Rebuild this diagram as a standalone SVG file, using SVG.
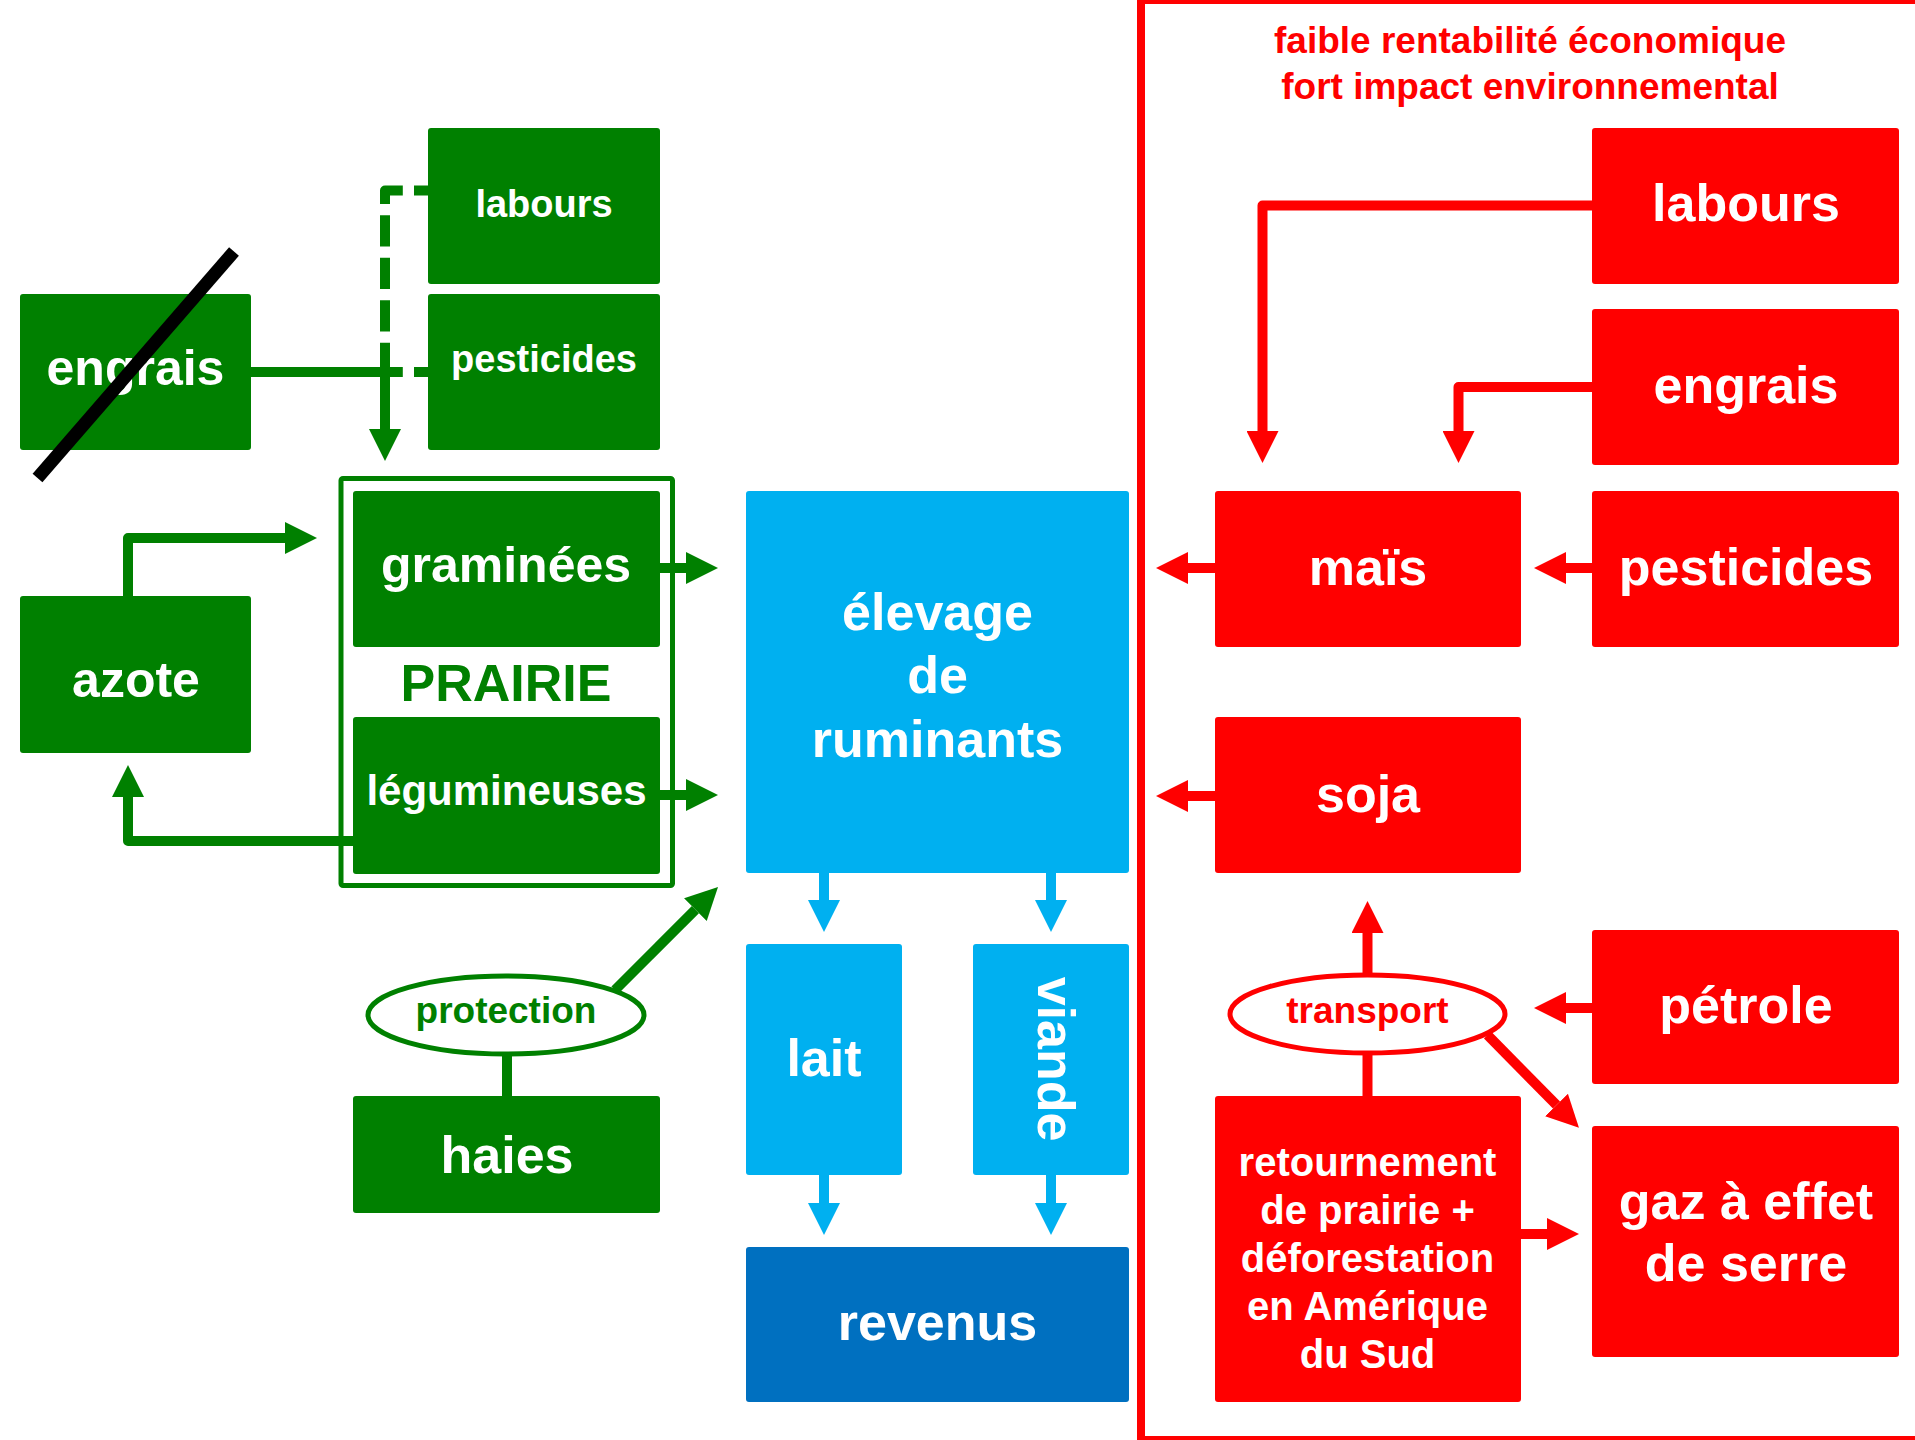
<svg xmlns="http://www.w3.org/2000/svg" width="1915" height="1440" viewBox="0 0 1915 1440">
  <style>
    text { font-family: "Liberation Sans", Arial, sans-serif; font-weight: bold; text-anchor: middle; }
    .g { fill: #008000; }
    .b { fill: #00B0F0; }
    .db { fill: #0070C0; }
    .r { fill: #FF0000; }
    .w { fill: #FFFFFF; }
    .tg { fill: #008000; }
    .tr { fill: #FF0000; }
    .cg { stroke: #008000; stroke-width: 10; fill: none; stroke-linejoin: round; }
    .cr { stroke: #FF0000; stroke-width: 10; fill: none; stroke-linejoin: round; }
    .cb { stroke: #00B0F0; stroke-width: 10; fill: none; }
    .dash { stroke-dasharray: 31.3 11.2; stroke-dashoffset: 17.3; }
    .s38 { font-size: 38px; }
    .s37 { font-size: 37px; }
    .s40 { font-size: 40px; }
    .s42 { font-size: 42px; }
    .s50 { font-size: 50px; }
    .s52 { font-size: 52px; }
  </style>
  <defs>
    <marker id="ah-g" markerUnits="userSpaceOnUse" markerWidth="32" markerHeight="32" viewBox="0 0 32 32" refX="0" refY="16" orient="auto">
      <path d="M0,0 L32,16 L0,32 Z" fill="#008000"/>
    </marker>
    <marker id="ah-r" markerUnits="userSpaceOnUse" markerWidth="32" markerHeight="32" viewBox="0 0 32 32" refX="0" refY="16" orient="auto">
      <path d="M0,0 L32,16 L0,32 Z" fill="#FF0000"/>
    </marker>
    <marker id="ah-b" markerUnits="userSpaceOnUse" markerWidth="32" markerHeight="32" viewBox="0 0 32 32" refX="0" refY="16" orient="auto">
      <path d="M0,0 L32,16 L0,32 Z" fill="#00B0F0"/>
    </marker>
  </defs>

  <rect width="1915" height="1440" fill="#FFFFFF"/>

  <!-- frame of the intensive side -->
  <rect id="frame-intensif" x="1141" y="0" width="800" height="1440" fill="none" stroke="#FF0000" stroke-width="8"/>
  <g id="titre">
    <text class="tr s37" x="1530" y="53">faible rentabilité économique</text>
    <text class="tr s37" x="1530" y="99">fort impact environnemental</text>
  </g>

  <!-- connectors -->
  <g id="connectors">
    <!-- green side -->
    <path class="cg" d="M251,372 H385 V429" marker-end="url(#ah-g)"/>
    <path class="cg dash" d="M428,190.5 H385 V372"/>
    <path class="cg dash" d="M428,372 H385"/>
    <path class="cg" d="M128,596 V538 H285" marker-end="url(#ah-g)"/>
    <path class="cg" d="M353,841 H128 V797" marker-end="url(#ah-g)"/>
    <path class="cg" d="M660,568 H686" marker-end="url(#ah-g)"/>
    <path class="cg" d="M660,795 H686" marker-end="url(#ah-g)"/>
    <path class="cg" d="M615,990 L695.4,909.6" marker-end="url(#ah-g)"/>
    <path class="cg" d="M507,1054 V1096"/>
    <!-- blue centre -->
    <path class="cb" d="M824,873 V900" marker-end="url(#ah-b)"/>
    <path class="cb" d="M1051,873 V900" marker-end="url(#ah-b)"/>
    <path class="cb" d="M824,1175 V1203" marker-end="url(#ah-b)"/>
    <path class="cb" d="M1051,1175 V1203" marker-end="url(#ah-b)"/>
    <!-- red side -->
    <path class="cr" d="M1592,205.5 H1262.5 V431" marker-end="url(#ah-r)"/>
    <path class="cr" d="M1592,387 H1458.5 V431" marker-end="url(#ah-r)"/>
    <path class="cr" d="M1592,568 H1566" marker-end="url(#ah-r)"/>
    <path class="cr" d="M1215,568 H1188" marker-end="url(#ah-r)"/>
    <path class="cr" d="M1215,796 H1188" marker-end="url(#ah-r)"/>
    <path class="cr" d="M1592,1008 H1566" marker-end="url(#ah-r)"/>
    <path class="cr" d="M1367.5,1096 V1053"/>
    <path class="cr" d="M1367.5,975 V933" marker-end="url(#ah-r)"/>
    <path class="cr" d="M1487.5,1035 L1556.5,1105" marker-end="url(#ah-r)"/>
    <path class="cr" d="M1521,1234 H1547" marker-end="url(#ah-r)"/>
  </g>

  <!-- green nodes -->
  <g id="engrais-vert">
    <rect class="g" x="20" y="294" width="231" height="156" rx="3"/>
    <text class="w s50" x="135.5" y="385">engrais</text>
    <line x1="37.5" y1="478" x2="234" y2="251.5" stroke="#000000" stroke-width="13"/>
  </g>
  <g id="labours-vert">
    <rect class="g" x="428" y="128" width="232" height="156" rx="3"/>
    <text class="w s38" x="544" y="217">labours</text>
  </g>
  <g id="pesticides-vert">
    <rect class="g" x="428" y="294" width="232" height="156" rx="3"/>
    <text class="w s38" x="544" y="372">pesticides</text>
  </g>
  <g id="azote">
    <rect class="g" x="20" y="596" width="231" height="157" rx="3"/>
    <text class="w s50" x="136" y="697">azote</text>
  </g>
  <g id="prairie">
    <rect x="341" y="478.5" width="331.5" height="407" rx="2" fill="none" stroke="#008000" stroke-width="5"/>
    <text class="tg s52" x="506" y="701">PRAIRIE</text>
  </g>
  <g id="graminees">
    <rect class="g" x="353" y="491" width="307" height="156" rx="3"/>
    <text class="w s50" x="506" y="582">graminées</text>
  </g>
  <g id="legumineuses">
    <rect class="g" x="353" y="717" width="307" height="157" rx="3"/>
    <text class="w s42" x="506.5" y="805">légumineuses</text>
  </g>
  <g id="protection">
    <ellipse cx="506" cy="1015" rx="138" ry="39" fill="#FFFFFF" stroke="#008000" stroke-width="5"/>
    <text class="tg s37" x="506" y="1023">protection</text>
  </g>
  <g id="haies">
    <rect class="g" x="353" y="1096" width="307" height="117" rx="3"/>
    <text class="w s52" x="507" y="1173">haies</text>
  </g>

  <!-- blue nodes -->
  <g id="elevage">
    <rect class="b" x="746" y="491" width="383" height="382" rx="3"/>
    <text class="w s52" x="937.5" y="630">élevage</text>
    <text class="w s52" x="937.5" y="693">de</text>
    <text class="w s52" x="937.5" y="757">ruminants</text>
  </g>
  <g id="lait">
    <rect class="b" x="746" y="944" width="156" height="231" rx="3"/>
    <text class="w s52" x="824" y="1076">lait</text>
  </g>
  <g id="viande">
    <rect class="b" x="973" y="944" width="156" height="231" rx="3"/>
    <text class="w s52" transform="translate(1038,1059) rotate(90)">viande</text>
  </g>
  <g id="revenus">
    <rect class="db" x="746" y="1247" width="383" height="155" rx="3"/>
    <text class="w s52" x="937.5" y="1340">revenus</text>
  </g>

  <!-- red nodes -->
  <g id="labours-rouge">
    <rect class="r" x="1592" y="128" width="307" height="156" rx="3"/>
    <text class="w s52" x="1746" y="221">labours</text>
  </g>
  <g id="engrais-rouge">
    <rect class="r" x="1592" y="309" width="307" height="156" rx="3"/>
    <text class="w s52" x="1746" y="403">engrais</text>
  </g>
  <g id="pesticides-rouge">
    <rect class="r" x="1592" y="491" width="307" height="156" rx="3"/>
    <text class="w s52" x="1746" y="585">pesticides</text>
  </g>
  <g id="mais">
    <rect class="r" x="1215" y="491" width="306" height="156" rx="3"/>
    <text class="w s52" x="1368" y="585">maïs</text>
  </g>
  <g id="soja">
    <rect class="r" x="1215" y="717" width="306" height="156" rx="3"/>
    <text class="w s52" x="1368" y="812">soja</text>
  </g>
  <g id="transport">
    <ellipse cx="1367.5" cy="1014" rx="137.5" ry="39" fill="#FFFFFF" stroke="#FF0000" stroke-width="5"/>
    <text class="tr s37" x="1367.5" y="1023">transport</text>
  </g>
  <g id="petrole">
    <rect class="r" x="1592" y="930" width="307" height="154" rx="3"/>
    <text class="w s52" x="1746" y="1023">pétrole</text>
  </g>
  <g id="retournement">
    <rect class="r" x="1215" y="1096" width="306" height="306" rx="3"/>
    <text class="w s40" x="1367.5" y="1176">retournement</text>
    <text class="w s40" x="1367.5" y="1224">de prairie +</text>
    <text class="w s40" x="1367.5" y="1272">déforestation</text>
    <text class="w s40" x="1367.5" y="1320">en Amérique</text>
    <text class="w s40" x="1367.5" y="1368">du Sud</text>
  </g>
  <g id="gaz">
    <rect class="r" x="1592" y="1126" width="307" height="231" rx="3"/>
    <text class="w s52" x="1746" y="1219">gaz à effet</text>
    <text class="w s52" x="1746" y="1281">de serre</text>
  </g>
</svg>
